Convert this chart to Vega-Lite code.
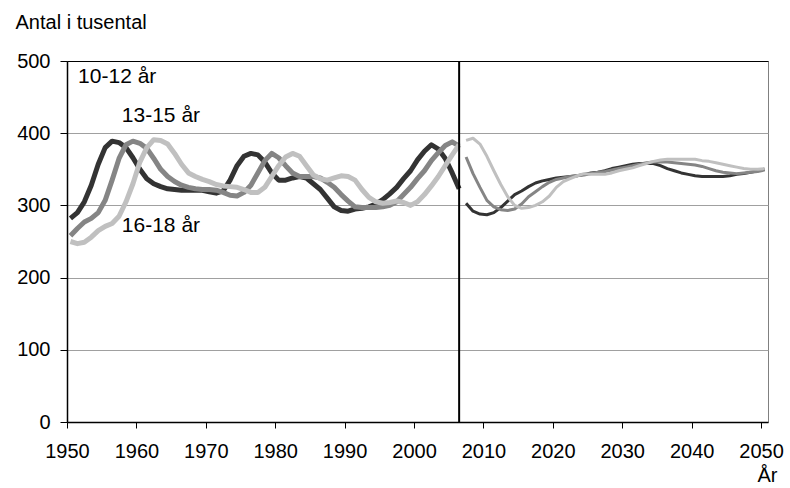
{
  "$schema": "https://vega.github.io/schema/vega-lite/v6.json",
  "width": 701,
  "height": 361,
  "autosize": "none",
  "padding": {"left": 67, "top": 61, "right": 22, "bottom": 66},
  "background": "white",
  "config": {
    "view": {"stroke": "#808080", "strokeWidth": 1},
    "font": "Liberation Sans",
    "text": {"font": "Liberation Sans"}
  },
  "datasets": {
    "series": [
      {"year":1950,"group":"10-12","period":"hist","value":282},{"year":1951,"group":"10-12","period":"hist","value":290},{"year":1952,"group":"10-12","period":"hist","value":305},{"year":1953,"group":"10-12","period":"hist","value":328},{"year":1954,"group":"10-12","period":"hist","value":357},{"year":1955,"group":"10-12","period":"hist","value":380},{"year":1956,"group":"10-12","period":"hist","value":389},{"year":1957,"group":"10-12","period":"hist","value":387},{"year":1958,"group":"10-12","period":"hist","value":380},{"year":1959,"group":"10-12","period":"hist","value":366},
      {"year":1960,"group":"10-12","period":"hist","value":350},{"year":1961,"group":"10-12","period":"hist","value":337},{"year":1962,"group":"10-12","period":"hist","value":330},{"year":1963,"group":"10-12","period":"hist","value":326},{"year":1964,"group":"10-12","period":"hist","value":323},{"year":1965,"group":"10-12","period":"hist","value":322},{"year":1966,"group":"10-12","period":"hist","value":321},{"year":1967,"group":"10-12","period":"hist","value":321},{"year":1968,"group":"10-12","period":"hist","value":321},{"year":1969,"group":"10-12","period":"hist","value":321},
      {"year":1970,"group":"10-12","period":"hist","value":319},{"year":1971,"group":"10-12","period":"hist","value":317},{"year":1972,"group":"10-12","period":"hist","value":320},{"year":1973,"group":"10-12","period":"hist","value":335},{"year":1974,"group":"10-12","period":"hist","value":355},{"year":1975,"group":"10-12","period":"hist","value":368},{"year":1976,"group":"10-12","period":"hist","value":372},{"year":1977,"group":"10-12","period":"hist","value":370},{"year":1978,"group":"10-12","period":"hist","value":360},{"year":1979,"group":"10-12","period":"hist","value":345},
      {"year":1980,"group":"10-12","period":"hist","value":335},{"year":1981,"group":"10-12","period":"hist","value":335},{"year":1982,"group":"10-12","period":"hist","value":338},{"year":1983,"group":"10-12","period":"hist","value":340},{"year":1984,"group":"10-12","period":"hist","value":338},{"year":1985,"group":"10-12","period":"hist","value":330},{"year":1986,"group":"10-12","period":"hist","value":322},{"year":1987,"group":"10-12","period":"hist","value":310},{"year":1988,"group":"10-12","period":"hist","value":298},{"year":1989,"group":"10-12","period":"hist","value":293},
      {"year":1990,"group":"10-12","period":"hist","value":292},{"year":1991,"group":"10-12","period":"hist","value":295},{"year":1992,"group":"10-12","period":"hist","value":296},{"year":1993,"group":"10-12","period":"hist","value":298},{"year":1994,"group":"10-12","period":"hist","value":302},{"year":1995,"group":"10-12","period":"hist","value":308},{"year":1996,"group":"10-12","period":"hist","value":316},{"year":1997,"group":"10-12","period":"hist","value":325},{"year":1998,"group":"10-12","period":"hist","value":337},{"year":1999,"group":"10-12","period":"hist","value":348},
      {"year":2000,"group":"10-12","period":"hist","value":363},{"year":2001,"group":"10-12","period":"hist","value":375},{"year":2002,"group":"10-12","period":"hist","value":384},{"year":2003,"group":"10-12","period":"hist","value":378},{"year":2004,"group":"10-12","period":"hist","value":365},{"year":2005,"group":"10-12","period":"hist","value":345},{"year":2006,"group":"10-12","period":"hist","value":323},

      {"year":1950,"group":"13-15","period":"hist","value":258},{"year":1951,"group":"13-15","period":"hist","value":268},{"year":1952,"group":"13-15","period":"hist","value":277},{"year":1953,"group":"13-15","period":"hist","value":282},{"year":1954,"group":"13-15","period":"hist","value":290},{"year":1955,"group":"13-15","period":"hist","value":307},{"year":1956,"group":"13-15","period":"hist","value":335},{"year":1957,"group":"13-15","period":"hist","value":365},{"year":1958,"group":"13-15","period":"hist","value":384},{"year":1959,"group":"13-15","period":"hist","value":389},
      {"year":1960,"group":"13-15","period":"hist","value":386},{"year":1961,"group":"13-15","period":"hist","value":379},{"year":1962,"group":"13-15","period":"hist","value":365},{"year":1963,"group":"13-15","period":"hist","value":350},{"year":1964,"group":"13-15","period":"hist","value":340},{"year":1965,"group":"13-15","period":"hist","value":333},{"year":1966,"group":"13-15","period":"hist","value":328},{"year":1967,"group":"13-15","period":"hist","value":325},{"year":1968,"group":"13-15","period":"hist","value":323},{"year":1969,"group":"13-15","period":"hist","value":322},
      {"year":1970,"group":"13-15","period":"hist","value":322},{"year":1971,"group":"13-15","period":"hist","value":321},{"year":1972,"group":"13-15","period":"hist","value":318},{"year":1973,"group":"13-15","period":"hist","value":314},{"year":1974,"group":"13-15","period":"hist","value":313},{"year":1975,"group":"13-15","period":"hist","value":318},{"year":1976,"group":"13-15","period":"hist","value":328},{"year":1977,"group":"13-15","period":"hist","value":345},{"year":1978,"group":"13-15","period":"hist","value":362},{"year":1979,"group":"13-15","period":"hist","value":372},
      {"year":1980,"group":"13-15","period":"hist","value":366},{"year":1981,"group":"13-15","period":"hist","value":355},{"year":1982,"group":"13-15","period":"hist","value":345},{"year":1983,"group":"13-15","period":"hist","value":340},{"year":1984,"group":"13-15","period":"hist","value":340},{"year":1985,"group":"13-15","period":"hist","value":340},{"year":1986,"group":"13-15","period":"hist","value":338},{"year":1987,"group":"13-15","period":"hist","value":332},{"year":1988,"group":"13-15","period":"hist","value":325},{"year":1989,"group":"13-15","period":"hist","value":315},
      {"year":1990,"group":"13-15","period":"hist","value":306},{"year":1991,"group":"13-15","period":"hist","value":298},{"year":1992,"group":"13-15","period":"hist","value":297},{"year":1993,"group":"13-15","period":"hist","value":297},{"year":1994,"group":"13-15","period":"hist","value":297},{"year":1995,"group":"13-15","period":"hist","value":298},{"year":1996,"group":"13-15","period":"hist","value":300},{"year":1997,"group":"13-15","period":"hist","value":305},{"year":1998,"group":"13-15","period":"hist","value":315},{"year":1999,"group":"13-15","period":"hist","value":325},
      {"year":2000,"group":"13-15","period":"hist","value":337},{"year":2001,"group":"13-15","period":"hist","value":348},{"year":2002,"group":"13-15","period":"hist","value":362},{"year":2003,"group":"13-15","period":"hist","value":373},{"year":2004,"group":"13-15","period":"hist","value":383},{"year":2005,"group":"13-15","period":"hist","value":388},{"year":2006,"group":"13-15","period":"hist","value":382},

      {"year":1950,"group":"16-18","period":"hist","value":250},{"year":1951,"group":"16-18","period":"hist","value":247},{"year":1952,"group":"16-18","period":"hist","value":249},{"year":1953,"group":"16-18","period":"hist","value":256},{"year":1954,"group":"16-18","period":"hist","value":265},{"year":1955,"group":"16-18","period":"hist","value":271},{"year":1956,"group":"16-18","period":"hist","value":275},{"year":1957,"group":"16-18","period":"hist","value":285},{"year":1958,"group":"16-18","period":"hist","value":305},{"year":1959,"group":"16-18","period":"hist","value":330},
      {"year":1960,"group":"16-18","period":"hist","value":360},{"year":1961,"group":"16-18","period":"hist","value":380},{"year":1962,"group":"16-18","period":"hist","value":391},{"year":1963,"group":"16-18","period":"hist","value":390},{"year":1964,"group":"16-18","period":"hist","value":385},{"year":1965,"group":"16-18","period":"hist","value":372},{"year":1966,"group":"16-18","period":"hist","value":357},{"year":1967,"group":"16-18","period":"hist","value":345},{"year":1968,"group":"16-18","period":"hist","value":340},{"year":1969,"group":"16-18","period":"hist","value":336},
      {"year":1970,"group":"16-18","period":"hist","value":333},{"year":1971,"group":"16-18","period":"hist","value":329},{"year":1972,"group":"16-18","period":"hist","value":327},{"year":1973,"group":"16-18","period":"hist","value":326},{"year":1974,"group":"16-18","period":"hist","value":325},{"year":1975,"group":"16-18","period":"hist","value":322},{"year":1976,"group":"16-18","period":"hist","value":318},{"year":1977,"group":"16-18","period":"hist","value":318},{"year":1978,"group":"16-18","period":"hist","value":325},{"year":1979,"group":"16-18","period":"hist","value":340},
      {"year":1980,"group":"16-18","period":"hist","value":355},{"year":1981,"group":"16-18","period":"hist","value":367},{"year":1982,"group":"16-18","period":"hist","value":372},{"year":1983,"group":"16-18","period":"hist","value":368},{"year":1984,"group":"16-18","period":"hist","value":355},{"year":1985,"group":"16-18","period":"hist","value":342},{"year":1986,"group":"16-18","period":"hist","value":337},{"year":1987,"group":"16-18","period":"hist","value":335},{"year":1988,"group":"16-18","period":"hist","value":338},{"year":1989,"group":"16-18","period":"hist","value":341},
      {"year":1990,"group":"16-18","period":"hist","value":340},{"year":1991,"group":"16-18","period":"hist","value":335},{"year":1992,"group":"16-18","period":"hist","value":322},{"year":1993,"group":"16-18","period":"hist","value":311},{"year":1994,"group":"16-18","period":"hist","value":305},{"year":1995,"group":"16-18","period":"hist","value":303},{"year":1996,"group":"16-18","period":"hist","value":304},{"year":1997,"group":"16-18","period":"hist","value":306},{"year":1998,"group":"16-18","period":"hist","value":304},{"year":1999,"group":"16-18","period":"hist","value":300},
      {"year":2000,"group":"16-18","period":"hist","value":305},{"year":2001,"group":"16-18","period":"hist","value":315},{"year":2002,"group":"16-18","period":"hist","value":327},{"year":2003,"group":"16-18","period":"hist","value":340},{"year":2004,"group":"16-18","period":"hist","value":355},{"year":2005,"group":"16-18","period":"hist","value":370},{"year":2006,"group":"16-18","period":"hist","value":384},

      {"year":2007,"group":"10-12","period":"proj","value":303},{"year":2008,"group":"10-12","period":"proj","value":292},{"year":2009,"group":"10-12","period":"proj","value":288},{"year":2010,"group":"10-12","period":"proj","value":287},{"year":2011,"group":"10-12","period":"proj","value":290},{"year":2012,"group":"10-12","period":"proj","value":297},{"year":2013,"group":"10-12","period":"proj","value":306},{"year":2014,"group":"10-12","period":"proj","value":315},{"year":2015,"group":"10-12","period":"proj","value":320},{"year":2016,"group":"10-12","period":"proj","value":326},
      {"year":2017,"group":"10-12","period":"proj","value":331},{"year":2018,"group":"10-12","period":"proj","value":334},{"year":2019,"group":"10-12","period":"proj","value":336},{"year":2020,"group":"10-12","period":"proj","value":338},{"year":2021,"group":"10-12","period":"proj","value":339},{"year":2022,"group":"10-12","period":"proj","value":340},{"year":2023,"group":"10-12","period":"proj","value":341},{"year":2024,"group":"10-12","period":"proj","value":343},{"year":2025,"group":"10-12","period":"proj","value":345},{"year":2026,"group":"10-12","period":"proj","value":346},
      {"year":2027,"group":"10-12","period":"proj","value":348},{"year":2028,"group":"10-12","period":"proj","value":351},{"year":2029,"group":"10-12","period":"proj","value":353},{"year":2030,"group":"10-12","period":"proj","value":355},{"year":2031,"group":"10-12","period":"proj","value":357},{"year":2032,"group":"10-12","period":"proj","value":358},{"year":2033,"group":"10-12","period":"proj","value":358},{"year":2034,"group":"10-12","period":"proj","value":358},{"year":2035,"group":"10-12","period":"proj","value":355},{"year":2036,"group":"10-12","period":"proj","value":351},
      {"year":2037,"group":"10-12","period":"proj","value":348},{"year":2038,"group":"10-12","period":"proj","value":345},{"year":2039,"group":"10-12","period":"proj","value":343},{"year":2040,"group":"10-12","period":"proj","value":341},{"year":2041,"group":"10-12","period":"proj","value":340},{"year":2042,"group":"10-12","period":"proj","value":340},{"year":2043,"group":"10-12","period":"proj","value":340},{"year":2044,"group":"10-12","period":"proj","value":340},{"year":2045,"group":"10-12","period":"proj","value":341},{"year":2046,"group":"10-12","period":"proj","value":343},
      {"year":2047,"group":"10-12","period":"proj","value":344},{"year":2048,"group":"10-12","period":"proj","value":346},{"year":2049,"group":"10-12","period":"proj","value":348},{"year":2050,"group":"10-12","period":"proj","value":350},

      {"year":2007,"group":"13-15","period":"proj","value":367},{"year":2008,"group":"13-15","period":"proj","value":344},{"year":2009,"group":"13-15","period":"proj","value":325},{"year":2010,"group":"13-15","period":"proj","value":307},{"year":2011,"group":"13-15","period":"proj","value":298},{"year":2012,"group":"13-15","period":"proj","value":294},{"year":2013,"group":"13-15","period":"proj","value":293},{"year":2014,"group":"13-15","period":"proj","value":295},{"year":2015,"group":"13-15","period":"proj","value":302},{"year":2016,"group":"13-15","period":"proj","value":312},
      {"year":2017,"group":"13-15","period":"proj","value":319},{"year":2018,"group":"13-15","period":"proj","value":326},{"year":2019,"group":"13-15","period":"proj","value":332},{"year":2020,"group":"13-15","period":"proj","value":336},{"year":2021,"group":"13-15","period":"proj","value":338},{"year":2022,"group":"13-15","period":"proj","value":340},{"year":2023,"group":"13-15","period":"proj","value":341},{"year":2024,"group":"13-15","period":"proj","value":342},{"year":2025,"group":"13-15","period":"proj","value":344},{"year":2026,"group":"13-15","period":"proj","value":346},
      {"year":2027,"group":"13-15","period":"proj","value":347},{"year":2028,"group":"13-15","period":"proj","value":349},{"year":2029,"group":"13-15","period":"proj","value":351},{"year":2030,"group":"13-15","period":"proj","value":353},{"year":2031,"group":"13-15","period":"proj","value":355},{"year":2032,"group":"13-15","period":"proj","value":357},{"year":2033,"group":"13-15","period":"proj","value":359},{"year":2034,"group":"13-15","period":"proj","value":360},{"year":2035,"group":"13-15","period":"proj","value":360},{"year":2036,"group":"13-15","period":"proj","value":360},
      {"year":2037,"group":"13-15","period":"proj","value":359},{"year":2038,"group":"13-15","period":"proj","value":358},{"year":2039,"group":"13-15","period":"proj","value":357},{"year":2040,"group":"13-15","period":"proj","value":356},{"year":2041,"group":"13-15","period":"proj","value":354},{"year":2042,"group":"13-15","period":"proj","value":351},{"year":2043,"group":"13-15","period":"proj","value":348},{"year":2044,"group":"13-15","period":"proj","value":346},{"year":2045,"group":"13-15","period":"proj","value":345},{"year":2046,"group":"13-15","period":"proj","value":344},
      {"year":2047,"group":"13-15","period":"proj","value":345},{"year":2048,"group":"13-15","period":"proj","value":346},{"year":2049,"group":"13-15","period":"proj","value":347},{"year":2050,"group":"13-15","period":"proj","value":349},

      {"year":2007,"group":"16-18","period":"proj","value":390},{"year":2008,"group":"16-18","period":"proj","value":393},{"year":2009,"group":"16-18","period":"proj","value":385},{"year":2010,"group":"16-18","period":"proj","value":368},{"year":2011,"group":"16-18","period":"proj","value":348},{"year":2012,"group":"16-18","period":"proj","value":329},{"year":2013,"group":"16-18","period":"proj","value":312},{"year":2014,"group":"16-18","period":"proj","value":300},{"year":2015,"group":"16-18","period":"proj","value":296},{"year":2016,"group":"16-18","period":"proj","value":297},
      {"year":2017,"group":"16-18","period":"proj","value":300},{"year":2018,"group":"16-18","period":"proj","value":305},{"year":2019,"group":"16-18","period":"proj","value":313},{"year":2020,"group":"16-18","period":"proj","value":325},{"year":2021,"group":"16-18","period":"proj","value":333},{"year":2022,"group":"16-18","period":"proj","value":337},{"year":2023,"group":"16-18","period":"proj","value":341},{"year":2024,"group":"16-18","period":"proj","value":344},{"year":2025,"group":"16-18","period":"proj","value":343},{"year":2026,"group":"16-18","period":"proj","value":343},
      {"year":2027,"group":"16-18","period":"proj","value":343},{"year":2028,"group":"16-18","period":"proj","value":345},{"year":2029,"group":"16-18","period":"proj","value":348},{"year":2030,"group":"16-18","period":"proj","value":350},{"year":2031,"group":"16-18","period":"proj","value":352},{"year":2032,"group":"16-18","period":"proj","value":355},{"year":2033,"group":"16-18","period":"proj","value":358},{"year":2034,"group":"16-18","period":"proj","value":361},{"year":2035,"group":"16-18","period":"proj","value":363},{"year":2036,"group":"16-18","period":"proj","value":364},
      {"year":2037,"group":"16-18","period":"proj","value":364},{"year":2038,"group":"16-18","period":"proj","value":364},{"year":2039,"group":"16-18","period":"proj","value":364},{"year":2040,"group":"16-18","period":"proj","value":364},{"year":2041,"group":"16-18","period":"proj","value":362},{"year":2042,"group":"16-18","period":"proj","value":361},{"year":2043,"group":"16-18","period":"proj","value":359},{"year":2044,"group":"16-18","period":"proj","value":357},{"year":2045,"group":"16-18","period":"proj","value":355},{"year":2046,"group":"16-18","period":"proj","value":353},
      {"year":2047,"group":"16-18","period":"proj","value":351},{"year":2048,"group":"16-18","period":"proj","value":350},{"year":2049,"group":"16-18","period":"proj","value":350},{"year":2050,"group":"16-18","period":"proj","value":351}
    ],
    "one": [{}]
  },
  "layer": [
    {
      "data": {"name": "series"},
      "mark": {"type": "line", "strokeJoin": "round", "strokeCap": "butt"},
      "encoding": {
        "x": {
          "field": "year", "type": "quantitative",
          "scale": {"domain": [1949.5, 2050.5], "nice": false, "zero": false},
          "axis": {
            "values": [1949.5, 1959.5, 1969.5, 1979.5, 1989.5, 1999.5, 2009.5, 2019.5, 2029.5, 2039.5, 2049.5],
            "labelExpr": "format(datum.value + 0.5, 'd')",
            "grid": false,
            "domainColor": "black", "domainWidth": 1.5,
            "tickColor": "black", "tickSize": 6, "tickWidth": 1,
            "labelFont": "Liberation Sans", "labelFontSize": 20, "labelColor": "black", "labelPadding": 13,
            "labelFlush": false, "labelOverlap": false,
            "title": "År", "titleFont": "Liberation Sans", "titleFontSize": 20, "titleFontWeight": "normal", "titleColor": "black",
            "titleAnchor": "end", "titleAlign": "right", "titleBaseline": "alphabetic", "titleX": 710, "titleY": 59
          }
        },
        "y": {
          "field": "value", "type": "quantitative",
          "scale": {"domain": [0, 500], "nice": false},
          "axis": {
            "values": [0, 100, 200, 300, 400, 500],
            "grid": true,
            "gridColor": {"condition": {"test": "datum.value === 500", "value": "black"}, "value": "#a0a0a0"},
            "gridWidth": 1,
            "domainColor": "black", "domainWidth": 1.5,
            "tickColor": "black", "tickSize": 7,
            "labelFont": "Liberation Sans", "labelFontSize": 20, "labelColor": "black", "labelPadding": 10,
            "title": "Antal i tusental", "titleFont": "Liberation Sans", "titleFontSize": 20, "titleFontWeight": "normal", "titleColor": "black",
            "titleAngle": 0, "titleAlign": "left", "titleBaseline": "alphabetic", "titleX": -52, "titleY": -33
          }
        },
        "color": {
          "field": "group", "type": "nominal",
          "scale": {"domain": ["10-12", "13-15", "16-18"], "range": ["#333333", "#858585", "#c0c0c0"]},
          "legend": null
        },
        "strokeWidth": {
          "field": "period", "type": "nominal",
          "scale": {"domain": ["hist", "proj"], "range": [5, 3]},
          "legend": null
        },
        "detail": {"field": "period"}
      }
    },
    {
      "data": {"name": "one"},
      "mark": {"type": "rule", "color": "black", "strokeWidth": 2},
      "encoding": {"x": {"datum": 2006}}
    },
    {
      "data": {"name": "one"},
      "mark": {"type": "text", "align": "left", "baseline": "alphabetic", "fontSize": 21, "color": "black", "font": "Liberation Sans"},
      "encoding": {"x": {"datum": 1951.1}, "y": {"datum": 469}, "text": {"value": "10-12 år"}}
    },
    {
      "data": {"name": "one"},
      "mark": {"type": "text", "align": "left", "baseline": "alphabetic", "fontSize": 21, "color": "black", "font": "Liberation Sans"},
      "encoding": {"x": {"datum": 1957.4}, "y": {"datum": 416}, "text": {"value": "13-15 år"}}
    },
    {
      "data": {"name": "one"},
      "mark": {"type": "text", "align": "left", "baseline": "alphabetic", "fontSize": 21, "color": "black", "font": "Liberation Sans"},
      "encoding": {"x": {"datum": 1957.4}, "y": {"datum": 263}, "text": {"value": "16-18 år"}}
    }
  ]
}
